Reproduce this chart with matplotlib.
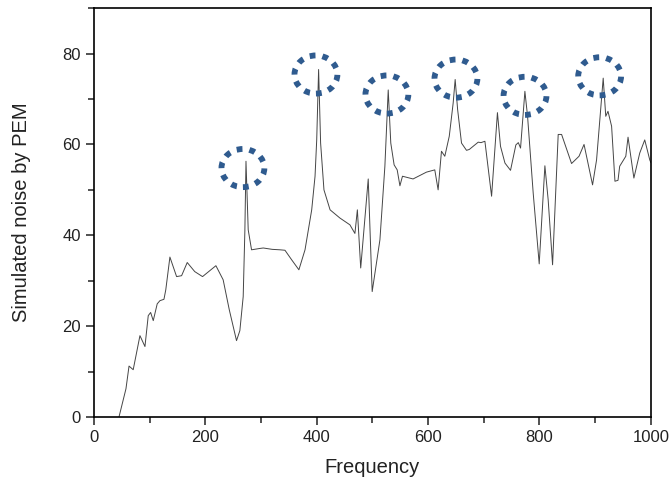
import matplotlib
matplotlib.use("Agg")
import matplotlib.pyplot as plt
from matplotlib.patches import Ellipse
from matplotlib.ticker import MultipleLocator

plt.rcParams["font.family"] = ["Liberation Sans", "DejaVu Sans"]

# Simulated noise spectrum
freq = [45, 57.5, 63, 70.5, 82.6, 91.6, 97.5, 101.8, 106.5, 113.6, 118.5,
        125.7, 129, 136.4, 148.4, 157.4, 167.5, 181, 195, 219, 232, 243, 256,
        262, 268, 271, 273, 277, 283, 298, 304, 320, 334, 343, 355, 368, 379,
        391, 397, 400, 403.4, 407, 413, 424, 441.6, 459.6, 468.6, 473, 479,
        492.5, 499.6, 513.5, 522.4, 528.4, 533, 539, 544.5, 549.4, 554, 573,
        597, 612, 618, 624, 630, 638, 645, 648.6, 653, 660, 669, 674, 690, 695,
        702, 714, 724.5, 730, 738, 748, 757.6, 762, 766, 773.8, 778.6, 788.7,
        799.5, 809.7, 815.6, 823.5, 833.6, 839.7, 857.6, 871, 880, 895.3,
        902.5, 908.4, 914.4, 919, 923, 929.5, 935.5, 941, 944, 955, 959,
        969.5, 980, 989, 998, 1000]
noise = [0, 6.2, 11.2, 10.4, 17.9, 15.5, 22.3, 23, 21.2, 24.9, 25.6, 25.9, 28,
         35.2, 30.9, 31.1, 34, 32, 30.9, 33.3, 30.2, 23.6, 16.8, 19, 26.5, 41,
         56.3, 41.2, 36.8, 37.1, 37.2, 36.9, 36.8, 36.7, 34.6, 32.4, 36.8,
         45.6, 53, 61, 76.5, 60.3, 50, 45.6, 43.8, 42.3, 40.4, 45.6, 32.8,
         52.4, 27.6, 39, 55.2, 72, 60.3, 55.5, 54.4, 50.9, 53, 52.4, 53.9,
         54.4, 50, 58.5, 57.4, 61.8, 69.1, 74.3, 67.7, 60.3, 58.7, 58.9, 60.5,
         60.4, 60.7, 48.6, 67, 59.6, 55.9, 54.3, 59.9, 60.4, 59.2, 71.7, 66.2,
         49.3, 33.7, 55.3, 47.8, 33.5, 62.2, 62.2, 55.8, 57.4, 60, 51.1, 56.6,
         65.5, 74.6, 66.2, 67.3, 64, 51.9, 52.1, 55.2, 57.4, 61.6, 52.6, 58.1,
         61, 56.6, 56]

# Highlighted peaks (dotted circles)
peak_freq = [267.5, 398.6, 526, 650, 774, 908]
peak_noise = [54.8, 75.4, 71.0, 74.5, 70.7, 75.0]

fig = plt.figure(figsize=(6.71, 4.82), dpi=100)
ax = fig.add_axes([0.140, 0.135, 0.830, 0.848])

ax.plot(freq, noise, color="#454545", linewidth=0.7)

for fx, fy in zip(peak_freq, peak_noise):
    ax.add_patch(Ellipse((fx, fy), 77, 8.4, fill=False, edgecolor="#2f5b8f",
                         linewidth=4.2, linestyle=(0, (1.0, 1.2)),
                         capstyle="butt", zorder=3))

ax.set_xlim(0, 1000)
ax.set_ylim(0, 90)
ax.xaxis.set_major_locator(MultipleLocator(200))
ax.xaxis.set_minor_locator(MultipleLocator(100))
ax.yaxis.set_major_locator(MultipleLocator(20))
ax.yaxis.set_minor_locator(MultipleLocator(10))
ax.tick_params(which="both", direction="out", top=False, right=False,
               width=1.1, labelsize=12, colors="#222222")
ax.tick_params(which="major", length=6)
ax.tick_params(which="minor", length=4)
for s in ax.spines.values():
    s.set_linewidth(1.2)

ax.set_xlabel("Frequency", fontsize=14.5, color="#222222")
ax.set_ylabel("Simulated noise by PEM", fontsize=14.5, color="#222222")
ax.xaxis.set_label_coords(0.5, -0.1)
ax.yaxis.set_label_coords(-0.113, 0.5)

fig.savefig("out.png", dpi=100)
